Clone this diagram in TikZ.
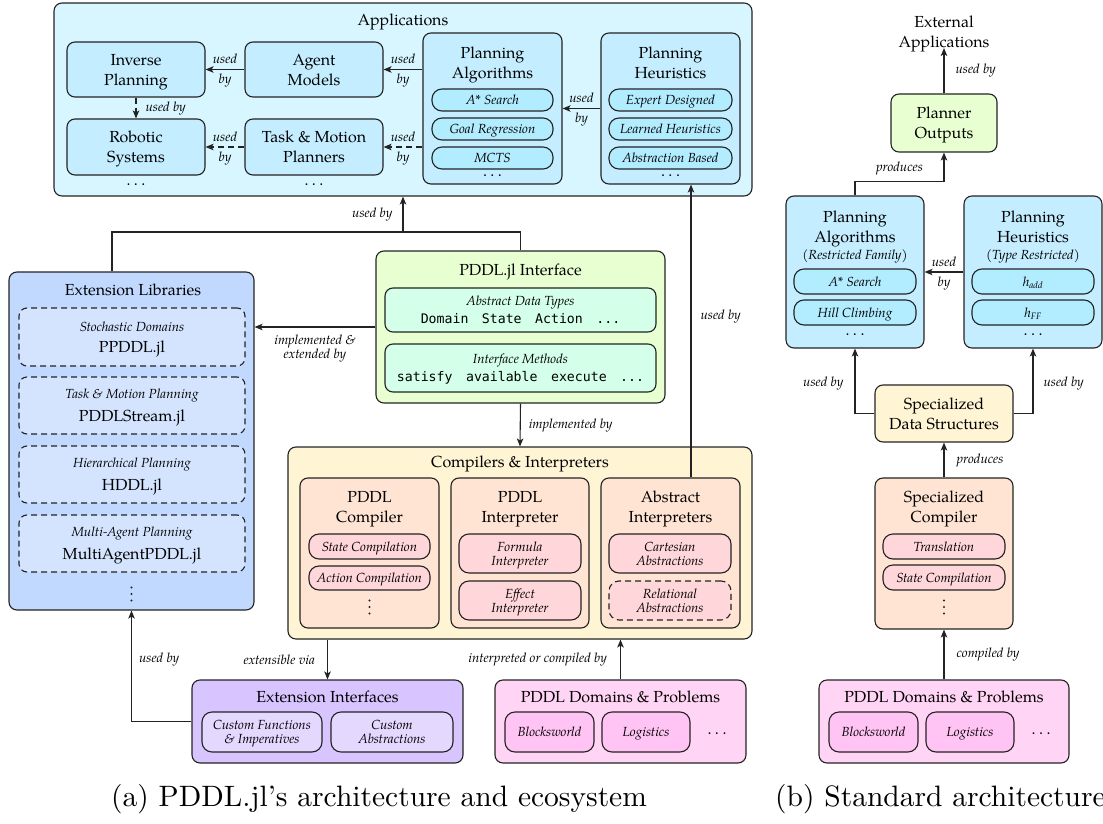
\documentclass[tikz,border=0pt]{standalone}
\usepackage{fontspec}
\usetikzlibrary{arrows.meta,calc}
\newfontfamily\palfont{texgyrepagella}[Extension=.otf,UprightFont=*-regular,ItalicFont=*-italic,BoldFont=*-bold,BoldItalicFont=*-bolditalic]
\newfontfamily\capfont{lmroman10-regular}[Extension=.otf,Ligatures=TeX]
\newfontfamily\codefont{DejaVu Sans Mono}
\newcommand\fmain{\palfont\upshape\fontsize{16}{20}\selectfont}
\newcommand\fsm{\palfont\itshape\fontsize{13.2}{14}\selectfont}
\newcommand\fcode{\codefont\upshape\fontsize{13.2}{15}\selectfont}
\newcommand\fcap{\capfont\fontsize{29.5}{34}\selectfont}
\newcommand\mg{\hspace{13.5pt}}
\newcommand\hdots{\hbox{.\hspace{3.5pt}.\hspace{3.5pt}.}}
% a box given by its corners: [options]{x1}{y1}{x2}{y2}{name}
\newcommand\boxnode[6][]{\node[#1, minimum width={(#4)-(#2)}, minimum height={(#5)-(#3)}] (#6) at ({((#2)+(#4))/2},{((#3)+(#5))/2})}
% three stacked dots centred at (x,y)
\newcommand\vdotsat[2]{\fill[lc] (#1,#2-6.5) circle (1.1pt) (#1,#2) circle (1.1pt) (#1,#2+6.5) circle (1.1pt);}
\definecolor{lc}{RGB}{35,35,35}
\definecolor{appbg}{RGB}{216,246,255}
\definecolor{appin}{RGB}{196,238,255}
\definecolor{apppill}{RGB}{178,236,255}
\definecolor{extbg}{RGB}{194,217,255}
\definecolor{extin}{RGB}{212,228,255}
\definecolor{pifbg}{RGB}{232,255,210}
\definecolor{pifin}{RGB}{212,255,232}
\definecolor{compbg}{RGB}{255,245,212}
\definecolor{compin}{RGB}{255,228,212}
\definecolor{comppill}{RGB}{255,214,218}
\definecolor{eibg}{RGB}{216,196,255}
\definecolor{eipill}{RGB}{228,216,255}
\definecolor{dombg}{RGB}{255,212,244}
\definecolor{dompill}{RGB}{255,196,244}
\begin{document}
\begin{tikzpicture}[x=1pt,y=-1pt,
  box/.style={draw=lc, line width=1.1pt, rounded corners=8pt, inner sep=0pt, align=center, font=\fmain, text depth=0pt},
  pill/.style={box, rounded corners=10pt, font=\fsm},
  dbox/.style={dash pattern=on 6pt off 4pt},
  ttl/.style={font=\fmain, align=center, inner sep=0pt, text depth=0pt},
  sub/.style={font=\fsm, align=center, inner sep=0pt, text depth=0pt},
  lab/.style={font=\fsm, inner sep=1pt, align=center},
  conn/.style={draw=lc, line width=1.1pt},
  arr/.style={conn, -{Stealth[length=8pt,width=6.5pt,inset=2pt]}},
  dots/.style={font=\fmain, inner sep=0pt},
]
\useasboundingbox (0,0) rectangle (1103,824);

% ---------------- Applications ----------------
\boxnode[box, fill=appbg]{54}{3}{752}{196}{apps} {};
\node[ttl] (appsT) at (403,20) {Applications};
\boxnode[box, fill=appin]{67}{42}{205}{97}{inv} {Inverse\\Planning};
\boxnode[box, fill=appin]{245}{42}{383}{97}{agent} {Agent\\Models};
\boxnode[box, fill=appin]{67}{119}{205}{175}{robo} {Robotic\\Systems};
\boxnode[box, fill=appin]{245}{119}{383}{175}{tamp} {Task \& Motion\\Planners};
\node[dots] (roboD) at (136,185) {\hdots};
\node[dots] (tampD) at (314,185) {\hdots};

\boxnode[box, fill=appin]{423}{33}{562}{184}{algA} {};
\node[ttl] (algAT) at (492.5,63) {Planning\\Algorithms};
\boxnode[pill, fill=apppill]{432}{89}{553}{111}{astarA} {A* Search};
\boxnode[pill, fill=apppill]{432}{118}{553}{140}{goalA} {Goal Regression};
\boxnode[pill, fill=apppill]{432}{147}{553}{169}{mctsA} {MCTS};
\node[dots] (algAD) at (492.5,176) {\hdots};

\boxnode[box, fill=appin]{601}{33}{740}{184}{heurA} {};
\node[ttl] (heurAT) at (670.5,63) {Planning\\Heuristics};
\boxnode[pill, fill=apppill]{609}{89}{732}{111}{expA} {Expert Designed};
\boxnode[pill, fill=apppill]{609}{118}{732}{140}{learnA} {Learned Heuristics};
\boxnode[pill, fill=apppill]{609}{147}{732}{169}{absbA} {Abstraction Based};
\node[dots] (heurAD) at (670.5,176) {\hdots};

% ---------------- Extension libraries ----------------
\boxnode[box, fill=extbg]{9}{272}{254}{610}{extlib} {};
\node[ttl] (extlibT) at (133,290) {Extension Libraries};
\boxnode[box, dbox, fill=extin, font=\fsm]{19}{308}{245}{366}{ppddl} {Stochastic Domains\\[7pt]{\fmain PPDDL.jl}};
\boxnode[box, dbox, fill=extin, font=\fsm]{19}{377}{245}{434}{stream} {Task \& Motion Planning\\[7pt]{\fmain PDDLStream.jl}};
\boxnode[box, dbox, fill=extin, font=\fsm]{19}{446}{245}{503}{hddl} {Hierarchical Planning\\[7pt]{\fmain HDDL.jl}};
\boxnode[box, dbox, fill=extin, font=\fsm]{19}{515}{245}{572}{multi} {Multi-Agent Planning\\[7pt]{\fmain MultiAgentPDDL.jl}};
\vdotsat{131.5}{594}

% ---------------- PDDL.jl interface ----------------
\boxnode[box, fill=pifbg]{376}{251}{665}{403}{pif} {};
\node[ttl] (pifT) at (520.5,270) {PDDL.jl Interface};
\boxnode[box, fill=pifin, font=\fsm]{385}{288}{656}{332}{adt} {Abstract Data Types\\[4pt]{\fcode Domain\mg State\mg Action\mg ...}};
\boxnode[box, fill=pifin, font=\fsm]{385}{344}{656}{392}{ims} {Interface Methods\\[4pt]{\fcode satisfy\mg available\mg execute\mg ...}};

% ---------------- Compilers & interpreters ----------------
\boxnode[box, fill=compbg]{288}{447}{752}{639}{comp} {};
\node[ttl] (compT) at (520,462) {Compilers \& Interpreters};
\boxnode[box, fill=compin]{300}{478}{439}{628}{pcomp} {};
\node[ttl] (pcompT) at (369.5,507) {PDDL\\Compiler};
\boxnode[pill, fill=comppill]{309}{534}{430}{559}{stc} {State Compilation};
\boxnode[pill, fill=comppill]{309}{566}{430}{590}{acc} {Action Compilation};
\vdotsat{369.5}{607}
\boxnode[box, fill=compin]{451}{478}{589}{628}{pint} {};
\node[ttl] (pintT) at (520,507) {PDDL\\Interpreter};
\boxnode[pill, fill=comppill]{459}{534}{581}{573}{form} {Formula\\Interpreter};
\boxnode[pill, fill=comppill]{459}{581}{581}{620}{eff} {Effect\\Interpreter};
\boxnode[box, fill=compin]{601}{478}{740}{628}{aint} {};
\node[ttl] (aintT) at (670.5,507) {Abstract\\Interpreters};
\boxnode[pill, fill=comppill]{609}{534}{731}{573}{cart} {Cartesian\\Abstractions};
\boxnode[pill, dbox, fill=comppill]{609}{581}{731}{620}{rel} {Relational\\Abstractions};

% ---------------- Extension interfaces & domains ----------------
\boxnode[box, fill=eibg]{192}{680}{463}{763}{extint} {};
\node[ttl] (extintT) at (327.5,697) {Extension Interfaces};
\boxnode[pill, fill=eipill]{202}{712}{322}{752}{cfun} {Custom Functions\\\& Imperatives};
\boxnode[pill, fill=eipill]{331}{712}{453}{752}{cabs} {Custom\\Abstractions};

\boxnode[box, fill=dombg]{495}{680}{746}{763}{domA} {};
\node[ttl] (domAT) at (620.5,697) {PDDL Domains \& Problems};
\boxnode[pill, fill=dompill]{505}{712}{594}{752}{bwA} {Blocksworld};
\boxnode[pill, fill=dompill]{602}{712}{690}{752}{logA} {Logistics};
\node[dots] (domAD) at (717,734) {\hdots};

% ---------------- Connectors, left figure ----------------
\draw[arr] (agent) -- (inv)
  node[lab, midway, yshift=10.5pt] (l1) {used} node[lab, midway, yshift=-11pt] (l2) {by};
\draw[arr] (agent.east -| algA.west) -- (agent.east)
  node[lab, midway, yshift=10.5pt] (l3) {used} node[lab, midway, yshift=-11pt] (l4) {by};
\draw[arr, dbox] (tamp) -- (robo)
  node[lab, midway, yshift=10.5pt] (l5) {used} node[lab, midway, yshift=-11pt] (l6) {by};
\draw[arr, dbox] (tamp.east -| algA.west) -- (tamp.east)
  node[lab, midway, yshift=10.5pt] (l7) {used} node[lab, midway, yshift=-11pt] (l8) {by};
\draw[arr, dbox] (inv) -- (robo) node[lab, midway, right=8pt] (l9) {used by};
\draw[arr] (heurA) -- (algA)
  node[lab, midway, yshift=10.5pt] (l10) {used} node[lab, midway, yshift=-11pt] (l11) {by};

\coordinate (merge) at (apps.south |- 0,232);
\draw[conn] ([xshift=-19.5pt]extlib.north) |- (merge) -| (pif.north);
\draw[arr] (merge) -- (apps.south) node[lab, midway, left=9pt] (l12) {used by};
\draw[arr] (pif.west) -- (pif.west -| extlib.east)
  node[lab, midway, below=6pt] (l13) {implemented \&\\extended by};
\draw[arr] (pif.south) -- (comp.north) node[lab, midway, right=7pt] (l14) {implemented by};
\draw[arr] ([xshift=20.5pt]aint.north) -- ([xshift=20.5pt]heurA.south)
  node[lab, pos=0.55, right=8pt] (l15) {used by};
\draw[arr] (extint.north |- comp.south) -- (extint.north)
  node[lab, midway, left=11pt] (l16) {extensible via};
\draw[arr] (domA.north) -- (domA.north |- comp.south)
  node[lab, midway, left=12pt] (l17) {interpreted or compiled by};
\draw[arr] (extint.west) -| (extlib.south) node[lab, pos=0.78, right=6pt] (l18) {used by};

% ---------------- Standard architecture ----------------
\node[ttl] (extapp) at (944,32) {External\\Applications};
\boxnode[box, fill=pifbg]{891}{94}{997}{152}{po} {Planner\\Outputs};
\boxnode[box, fill=appin]{786}{196}{924}{348}{algB} {};
\node[ttl] (algBT) at (855,227) {Planning\\Algorithms};
\node[sub] (algBS) at (855,255) {(Restricted Family)};
\boxnode[pill, fill=apppill]{794}{269}{916}{294}{astarB} {A* Search};
\boxnode[pill, fill=apppill]{794}{300}{916}{325}{hillB} {Hill Climbing};
\node[dots] (algBD) at (855,335) {\hdots};
\boxnode[box, fill=appin]{964}{196}{1102}{348}{heurB} {};
\node[ttl] (heurBT) at (1033,227) {Planning\\Heuristics};
\node[sub] (heurBS) at (1033,255) {(Type Restricted)};
\boxnode[pill, fill=apppill]{972}{269}{1094}{294}{haddB} {h\textsubscript{add}};
\boxnode[pill, fill=apppill]{972}{300}{1094}{325}{hffB} {h\textsubscript{FF}};
\node[dots] (heurBD) at (1033,335) {\hdots};
\boxnode[box, fill=compbg]{875}{385}{1013}{442}{sds} {Specialized\\Data Structures};
\boxnode[box, fill=compin]{875}{478}{1013}{629}{specC} {};
\node[ttl] (specCT) at (944,507) {Specialized\\Compiler};
\boxnode[pill, fill=comppill]{883}{534}{1005}{559}{trans} {Translation};
\boxnode[pill, fill=comppill]{883}{565}{1005}{590}{stcB} {State Compilation};
\vdotsat{944}{607}
\boxnode[box, fill=dombg]{819}{680}{1069}{763}{domB} {};
\node[ttl] (domBT) at (944,697) {PDDL Domains \& Problems};
\boxnode[pill, fill=dompill]{829}{712}{918}{752}{bwB} {Blocksworld};
\boxnode[pill, fill=dompill]{926}{712}{1014}{752}{logB} {Logistics};
\node[dots] (domBD) at (1041,734) {\hdots};

\draw[arr] (po.north) -- (extapp.south) node[lab, midway, right=10pt] (r1) {used by};
\draw[arr] (algB.north) -- ++(0,-14) coordinate (pbend) -| (po.south);
\node[lab, above=5pt] (r2) at ($(pbend)!0.5!(pbend -| po.south)$) {produces};
\draw[arr] (heurB) -- (algB)
  node[lab, midway, yshift=10.5pt] (r3) {used} node[lab, midway, yshift=-11pt] (r4) {by};
\draw[arr] (sds.west) -| (algB.south) node[lab, pos=0.73, left=10pt] (r5) {used by};
\draw[arr] (sds.east) -| (heurB.south) node[lab, pos=0.73, right=9pt] (r6) {used by};
\draw[arr] (specC.north) -- (sds.south) node[lab, midway, right=11pt] (r7) {produces};
\draw[arr] (domB.north) -- (specC.south) node[lab, midway, right=11pt] (r8) {compiled by};

% ---------------- Captions ----------------
\node[font=\fcap, anchor=base west, inner sep=0pt] (capA) at (111,806) {(a) PDDL.jl's architecture and ecosystem};
\node[font=\fcap, anchor=base west, inner sep=0pt] (capB) at (775,806) {(b) Standard architecture};
\end{tikzpicture}
\end{document}
